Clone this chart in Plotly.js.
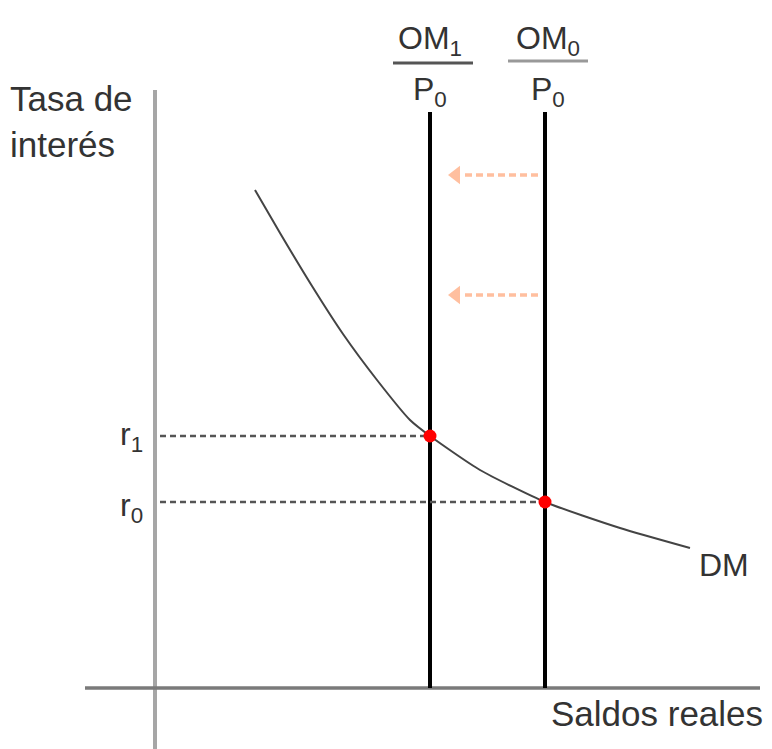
<!DOCTYPE html>
<html>
<head>
<meta charset="utf-8">
<script src="https://cdn.plot.ly/plotly-3.0.1.min.js"></script>
<style>html,body{margin:0;padding:0;background:#fff;}#chart{width:772px;height:749px;}</style>
</head>
<body>
<div id="chart"></div>
<script>
// Money demand curve (DM): real balances vs interest rate (arbitrary units)
const dmX = [20, 25, 31.4, 37.6, 44.4, 51, 55, 65, 78, 93, 107];
const dmY = [99.6, 91, 80.4, 70.8, 61.6, 53.6, 50.4, 43.6, 37.2, 32, 28];
// Money supply levels (vertical lines)
const supplyNames = ["OM1/P0", "OM0/P0"];
const supplyX = [55, 78];
const supplyTop = 115.2;
// Equilibrium interest rates
const rateLabels = ["r<sub>1</sub>", "r<sub>0</sub>"];
const rateY = [50.4, 37.2];
// Shift arrows (from OM0 towards OM1)
const arrowY = [102.6, 78.6];
const arrowFromX = 76.6, arrowToX = 61.6, arrowHeadX = 60.2;

const traces = [];
// axes lines
traces.push({x:[0,0], y:[-12.2,119.6], mode:'lines', line:{color:'#a6a6a6', width:4}, hoverinfo:'skip'});
traces.push({x:[-14,121], y:[0,0], mode:'lines', line:{color:'#7a7a7a', width:3.5}, hoverinfo:'skip'});
// supply lines
supplyX.forEach(sx => traces.push({x:[sx,sx], y:[0,supplyTop], mode:'lines', line:{color:'#000', width:4}, hoverinfo:'skip'}));
// dashed rate lines
rateY.forEach((ry,i) => traces.push({x:[1,supplyX[i]], y:[ry,ry], mode:'lines', line:{color:'#555', width:2.5, dash:'6px,4px'}, hoverinfo:'skip'}));
// demand curve
traces.push({x:dmX, y:dmY, mode:'lines', line:{color:'#444', width:2, shape:'spline', smoothing:0.6}, hoverinfo:'skip'});
// arrows
arrowY.forEach(ay => {
  traces.push({x:[arrowFromX, arrowToX], y:[ay,ay], mode:'lines', line:{color:'#ffbf9f', width:3.5, dash:'7px,4px'}, hoverinfo:'skip'});
  traces.push({x:[arrowHeadX], y:[ay], mode:'markers', marker:{symbol:'triangle-left', size:16, color:'#ffbf9f'}, hoverinfo:'skip'});
});
// equilibrium points
traces.push({x:supplyX, y:rateY, mode:'markers', marker:{color:'#ff0000', size:13}, hoverinfo:'skip'});

const font = {family:'Liberation Sans, Arial, sans-serif', size:32, color:'#333'};
const bigFont = {family:'Liberation Sans, Arial, sans-serif', size:35, color:'#333'};
const annotations = [
  {x:-29.4, y:113.4, xanchor:'left', yanchor:'middle', align:'left', text:'Tasa de<br>interés', showarrow:false, font:bigFont},
  {x:78.8, y:-5, xanchor:'left', yanchor:'middle', text:'Saldos reales', showarrow:false, font:bigFont},
  {x:108.4, y:24.6, xanchor:'left', yanchor:'middle', text:'DM', showarrow:false, font:font},
  {x:-2, y:rateY[0], xanchor:'right', yanchor:'middle', text:rateLabels[0], showarrow:false, font:font},
  {x:-2, y:rateY[1]-1, xanchor:'right', yanchor:'middle', text:rateLabels[1], showarrow:false, font:font},
  {x:supplyX[0], y:129.6, xanchor:'center', yanchor:'middle', text:'OM<sub>1</sub>', showarrow:false, font:font},
  {x:supplyX[0], y:119.4, xanchor:'center', yanchor:'middle', text:'P<sub>0</sub>', showarrow:false, font:font},
  {x:supplyX[1]+0.6, y:129.6, xanchor:'center', yanchor:'middle', text:'OM<sub>0</sub>', showarrow:false, font:font},
  {x:supplyX[1]+0.6, y:119.4, xanchor:'center', yanchor:'middle', text:'P<sub>0</sub>', showarrow:false, font:font}
];
const shapes = [
  {type:'line', x0:supplyX[0]-7.4, x1:supplyX[0]+8.6, y0:125, y1:125, line:{color:'#555', width:3}},
  {type:'line', x0:supplyX[1]-7.4, x1:supplyX[1]+8.6, y0:125.4, y1:125.4, line:{color:'#999', width:3}}
];

Plotly.newPlot('chart', traces, {
  width:772, height:749,
  margin:{l:0,r:0,t:0,b:0},
  paper_bgcolor:'#fff', plot_bgcolor:'#fff',
  showlegend:false,
  xaxis:{range:[-31,123.4], visible:false, fixedrange:true},
  yaxis:{range:[-12.2,137.6], visible:false, fixedrange:true},
  annotations:annotations, shapes:shapes
}, {displayModeBar:false, staticPlot:true});
</script>
</body>
</html>
